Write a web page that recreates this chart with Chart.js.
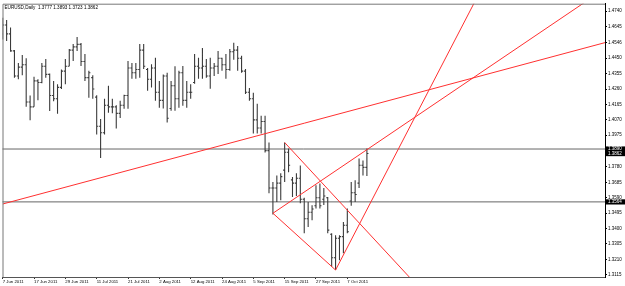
<!DOCTYPE html>
<html>
<head>
<meta charset="utf-8">
<script src="https://cdn.jsdelivr.net/npm/chart.js@4.4.0/dist/chart.umd.min.js"></script>
<style>
  html, body { margin: 0; padding: 0; background: #fff; }
  #wrap { width: 625px; height: 286px; }
</style>
</head>
<body>
<div id="wrap"><canvas id="chart"></canvas></div>
<script>
// EURUSD daily bars, 7 Jun 2011 .. 14 Oct 2011 (one entry per trading day)
var opens = [
  1.4600, 1.4655, 1.4600, 1.4495, 1.4340, 1.4395, 1.4410, 1.4180, 1.4150, 1.4310,
  1.4300, 1.4400, 1.4350, 1.4220, 1.4200, 1.4270, 1.4370, 1.4400, 1.4500, 1.4520,
  1.4535, 1.4430, 1.4330, 1.4330, 1.4210, 1.4030, 1.3990, 1.4160, 1.4150, 1.4150,
  1.4110, 1.4160, 1.4220, 1.4390, 1.4360, 1.4380, 1.4500, 1.4380, 1.4320, 1.4390,
  1.4240, 1.4190, 1.4340, 1.4140, 1.4280, 1.4200, 1.4360, 1.4190, 1.4240, 1.4300,
  1.4400, 1.4390, 1.4400, 1.4340, 1.4390, 1.4400, 1.4450, 1.4410, 1.4380, 1.4490,
  1.4500, 1.4450, 1.4370, 1.4240, 1.4200, 1.4070, 1.4020, 1.4060, 1.3880, 1.3650,
  1.3650, 1.3680, 1.3760, 1.3870, 1.3700, 1.3680, 1.3710, 1.3580, 1.3460, 1.3500,
  1.3540, 1.3590, 1.3580, 1.3590, 1.3365, 1.3220, 1.3340, 1.3350, 1.3420, 1.3570,
  1.3620, 1.3680, 1.3790, 1.3777
];
var highs = [
  1.4699, 1.4685, 1.4640, 1.4500, 1.4420, 1.4470, 1.4450, 1.4220, 1.4335, 1.4320,
  1.4420, 1.4445, 1.4355, 1.4310, 1.4290, 1.4380, 1.4445, 1.4507, 1.4537, 1.4580,
  1.4544, 1.4476, 1.4372, 1.4345, 1.4222, 1.4075, 1.4200, 1.4280, 1.4200, 1.4160,
  1.4187, 1.4225, 1.4433, 1.4421, 1.4421, 1.4537, 1.4537, 1.4390, 1.4413, 1.4452,
  1.4310, 1.4350, 1.4361, 1.4310, 1.4400, 1.4372, 1.4402, 1.4310, 1.4290, 1.4476,
  1.4452, 1.4513, 1.4445, 1.4452, 1.4421, 1.4494, 1.4452, 1.4476, 1.4507, 1.4546,
  1.4525, 1.4465, 1.4384, 1.4267, 1.4237, 1.4169, 1.4095, 1.4095, 1.3931, 1.3686,
  1.3727, 1.3740, 1.3931, 1.3893, 1.3717, 1.3740, 1.3788, 1.3590, 1.3563, 1.3543,
  1.3666, 1.3678, 1.3650, 1.3594, 1.3371, 1.3359, 1.3359, 1.3440, 1.3524, 1.3686,
  1.3698, 1.3832, 1.3819, 1.3893
];
var lows = [
  1.4566, 1.4556, 1.4490, 1.4330, 1.4320, 1.4345, 1.4150, 1.4068, 1.4150, 1.4190,
  1.4295, 1.4330, 1.4125, 1.4185, 1.4108, 1.4260, 1.4290, 1.4400, 1.4433, 1.4494,
  1.4402, 1.4310, 1.4206, 1.4200, 1.3980, 1.3835, 1.3980, 1.4114, 1.4110, 1.4016,
  1.4082, 1.4138, 1.4138, 1.4323, 1.4323, 1.4329, 1.4384, 1.4250, 1.4270, 1.4187,
  1.4145, 1.4140, 1.4054, 1.4126, 1.4126, 1.4145, 1.4157, 1.4145, 1.4200, 1.4292,
  1.4323, 1.4323, 1.4329, 1.4261, 1.4341, 1.4353, 1.4372, 1.4323, 1.4372, 1.4440,
  1.4372, 1.4360, 1.4230, 1.4187, 1.3985, 1.3985, 1.3985, 1.3868, 1.3617, 1.3486,
  1.3563, 1.3574, 1.3686, 1.3747, 1.3594, 1.3600, 1.3555, 1.3371, 1.3410, 1.3451,
  1.3524, 1.3524, 1.3545, 1.3371, 1.3164, 1.3144, 1.3205, 1.3248, 1.3371, 1.3540,
  1.3563, 1.3650, 1.3727, 1.3723
];
var closes = [
  1.4655, 1.4600, 1.4495, 1.4340, 1.4395, 1.4410, 1.4180, 1.4150, 1.4310, 1.4300,
  1.4400, 1.4350, 1.4220, 1.4200, 1.4270, 1.4370, 1.4400, 1.4500, 1.4520, 1.4535,
  1.4430, 1.4330, 1.4360, 1.4260, 1.4030, 1.3990, 1.4160, 1.4150, 1.4150, 1.4110,
  1.4160, 1.4220, 1.4390, 1.4360, 1.4380, 1.4500, 1.4400, 1.4320, 1.4390, 1.4240,
  1.4190, 1.4340, 1.4080, 1.4280, 1.4200, 1.4360, 1.4190, 1.4240, 1.4240, 1.4400,
  1.4390, 1.4400, 1.4340, 1.4390, 1.4400, 1.4450, 1.4410, 1.4380, 1.4490, 1.4500,
  1.4450, 1.4370, 1.4240, 1.4200, 1.4070, 1.4020, 1.4060, 1.3880, 1.3650, 1.3650,
  1.3680, 1.3720, 1.3870, 1.3790, 1.3680, 1.3710, 1.3580, 1.3460, 1.3500, 1.3520,
  1.3590, 1.3540, 1.3600, 1.3390, 1.3220, 1.3340, 1.3350, 1.3420, 1.3380, 1.3620,
  1.3610, 1.3790, 1.3777, 1.3862
];

var dateTicks = [0, 8, 16, 24, 32, 40, 48, 56, 64, 72, 80, 88];
var dateLabels = ["7 Jun 2011", "17 Jun 2011", "29 Jun 2011", "11 Jul 2011", "21 Jul 2011",
  "2 Aug 2011", "12 Aug 2011", "24 Aug 2011", "5 Sep 2011", "15 Sep 2011", "27 Sep 2011", "7 Oct 2011"];

var priceTicks = [1.4740, 1.4645, 1.4546, 1.4450, 1.4355, 1.4260, 1.4165, 1.4070, 1.3975,
  1.3780, 1.3685, 1.3590, 1.3495, 1.3400, 1.3305, 1.3210, 1.3115];
var markedPrices = [1.3890, 1.3862, 1.3564];
var levelPrices = [1.3890, 1.3564];

// trend lines: [x1, y1, x2, y2] in bar index / price, "ray" extends past the 2nd point
var trendFrom = [[0, 1.3551], [85, 1.3144], [69, 1.3494], [69, 1.3494], [72, 1.3930]];
var trendTo   = [[153.8, 1.4546], [101.4, 1.3907], [101.45, 1.4024], [85, 1.3144], [101.4, 1.3164]];
var trendRay  = [true, true, true, false, true];

var title = "EURUSD,Daily  1.3777 1.3893 1.3723 1.3862";

(function () {
  "use strict";

  var FONT = "'Liberation Sans', Arial, sans-serif";
  var X_MIN = -0.05, X_MAX = 153.8;

  function barPoints() {
    var pts = [];
    for (var i = 0; i < highs.length; i++) {
      pts.push({ x: i, y: lows[i] }, { x: i, y: highs[i] }, { x: i, y: null });
      pts.push({ x: i - 0.4, y: opens[i] }, { x: i, y: opens[i] }, { x: i, y: null });
      pts.push({ x: i, y: closes[i] }, { x: i + 0.4, y: closes[i] }, { x: i, y: null });
    }
    return pts;
  }

  function trendDatasets() {
    return trendFrom.map(function (a, k) {
      var b = trendTo[k];
      var end = b;
      if (trendRay[k]) {
        var slope = (b[1] - a[1]) / (b[0] - a[0]);
        end = [230, a[1] + slope * (230 - a[0])];
      }
      return {
        data: [{ x: a[0], y: a[1] }, { x: end[0], y: end[1] }],
        borderColor: "#ff3030",
        borderWidth: 1,
        pointRadius: 0,
        showLine: true,
        order: 1,
      };
    });
  }

  function levelDatasets() {
    return levelPrices.map(function (p) {
      return {
        data: [{ x: X_MIN - 5, y: p }, { x: X_MAX + 5, y: p }],
        borderColor: "#666",
        borderWidth: 1,
        pointRadius: 0,
        showLine: true,
        order: 3,
      };
    });
  }

  var overlay = {
    id: "overlay",
    afterDraw: function (chart) {
      var ctx = chart.ctx, a = chart.chartArea, ys = chart.scales.y;
      ctx.save();
      ctx.strokeStyle = "#777";
      ctx.lineWidth = 1;
      ctx.beginPath();
      ctx.moveTo(a.left + 0.5, a.bottom);
      ctx.lineTo(a.left + 0.5, a.top + 0.5);
      ctx.lineTo(a.right, a.top + 0.5);
      ctx.stroke();

      ctx.font = "4.6px " + FONT;
      ctx.textBaseline = "middle";
      ctx.textAlign = "left";
      ctx.fillStyle = "#000";
      ctx.fillText(title, a.left + 2, a.top + 4.2);

      ctx.font = "4.5px " + FONT;
      markedPrices.forEach(function (p) {
        var y = ys.getPixelForValue(p);
        ctx.fillStyle = "#000";
        ctx.fillRect(a.right, y - 2.6, 625 - a.right, 5.2);
        ctx.fillStyle = "#fff";
        ctx.fillText(p.toFixed(4), a.right + 3, y + 0.2);
      });
      ctx.restore();
    },
  };

  var datasets = [{
    data: barPoints(),
    borderColor: "#3a3a3a",
    borderWidth: 1.1,
    pointRadius: 0,
    showLine: true,
    spanGaps: false,
    order: 2,
  }].concat(trendDatasets(), levelDatasets());

  new Chart(document.getElementById("chart"), {
    type: "scatter",
    data: { datasets: datasets },
    plugins: [overlay],
    options: {
      responsive: true,
      maintainAspectRatio: false,
      animation: false,
      devicePixelRatio: 1,
      layout: { padding: { left: 2.5, top: 2.5, right: 0, bottom: 0 } },
      elements: { line: { tension: 0 } },
      plugins: { legend: { display: false }, tooltip: { enabled: false } },
      scales: {
        x: {
          type: "linear",
          min: X_MIN,
          max: X_MAX,
          afterBuildTicks: function (s) {
            s.ticks = dateTicks.map(function (v) { return { value: v }; });
          },
          afterFit: function (s) { s.height = 9; },
          ticks: {
            autoSkip: false,
            maxRotation: 0,
            align: "start",
            padding: 0.5,
            color: "#000",
            font: { family: FONT, size: 4.3 },
            callback: function (v) {
              var k = dateTicks.indexOf(v);
              return k >= 0 ? dateLabels[k] : "";
            },
          },
          grid: { drawOnChartArea: false, tickLength: 2, color: "#333" },
          border: { display: true, color: "#555" },
        },
        y: {
          type: "linear",
          position: "right",
          min: 1.3101,
          max: 1.4786,
          afterBuildTicks: function (s) {
            s.ticks = priceTicks.map(function (v) { return { value: v }; });
          },
          afterFit: function (s) { s.width = 20; },
          ticks: {
            padding: 1,
            color: "#000",
            font: { family: FONT, size: 4.5 },
            callback: function (v) { return Number(v).toFixed(4); },
          },
          grid: { drawOnChartArea: false, tickLength: 2, color: "#000" },
          border: { display: true, color: "#000" },
        },
      },
    },
  });
})();
</script>
</body>
</html>
